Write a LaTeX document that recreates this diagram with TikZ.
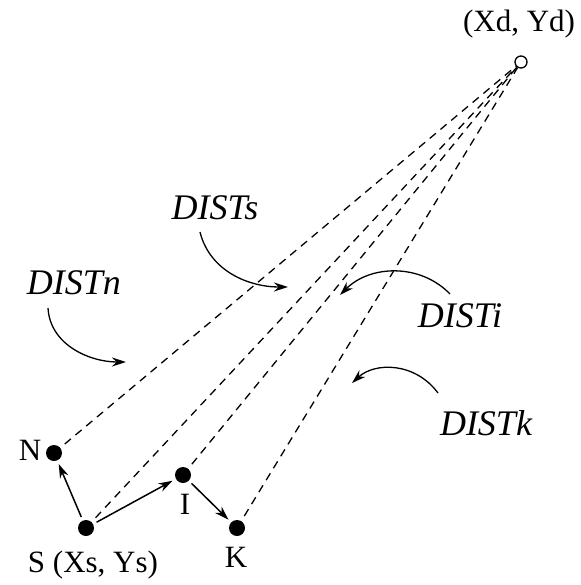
\documentclass[tikz,border=0pt]{standalone}
\usepackage{fontspec}
\setmainfont{Liberation Serif}
\usetikzlibrary{arrows.meta}
\begin{document}
\begin{tikzpicture}[x=1pt,y=-1pt,
  dot/.style={circle,fill=black,inner sep=0pt,minimum size=16pt,outer sep=4pt},
  dest/.style={circle,draw=black,line width=1.3pt,fill=white,inner sep=0pt,minimum size=12pt},
  lbl/.style={font=\fontsize{31}{33}\selectfont,inner sep=0pt},
  dlbl/.style={font=\fontsize{36}{38}\selectfont\itshape,inner sep=0pt},
  dashline/.style={dash pattern=on 8pt off 6pt,line width=1.3pt},
  move/.style={-{Stealth[length=14pt,width=9pt]},line width=1.5pt},
  cur/.style={-{Stealth[length=14pt,width=9pt]},line width=1.3pt}]
\useasboundingbox[fill=white] (0,0) rectangle (580,585);
\node[dot] (N) at (54,453) {};
\node[dot] (S) at (86,528) {};
\node[dot] (I) at (183,475) {};
\node[dot] (K) at (237,528) {};
\node[dest] (D) at (521,62) {};
\node[lbl] (tN) at (30,450) {N};
\node[lbl] (tS) at (93,565) {S (Xs, Ys)};
\node[lbl] (tI) at (185,504) {I};
\node[lbl] (tK) at (236,557) {K};
\node[lbl] (tD) at (519,24) {(Xd, Yd)};
\foreach \p in {N,S,I,K} \draw[dashline] (\p.center) -- (D);
\draw[move] (S) -- (N);
\draw[move] (S) -- (I);
\draw[move] (I) -- (K);
\node[dlbl] (ds) at (215,208) {DISTs};
\node[dlbl] (dn) at (74,283) {DISTn};
\node[dlbl] (di) at (460,316) {DISTi};
\node[dlbl] (dk) at (486,423) {DISTk};
\coordinate (ts) at (288,287);
\coordinate (tn) at (126,362);
\coordinate (ti) at (340,295);
\coordinate (tk) at (352,383);
\draw[cur] (200,232) .. controls (210,272) and (250,287) .. (ts);
\draw[cur] (48,308) .. controls (50,345) and (90,362) .. (tn);
\draw[cur] (450,294) .. controls (420,263) and (370,265) .. (ti);
\draw[cur] (438,393) .. controls (415,362) and (375,362) .. (tk);
\end{tikzpicture}
\end{document}
